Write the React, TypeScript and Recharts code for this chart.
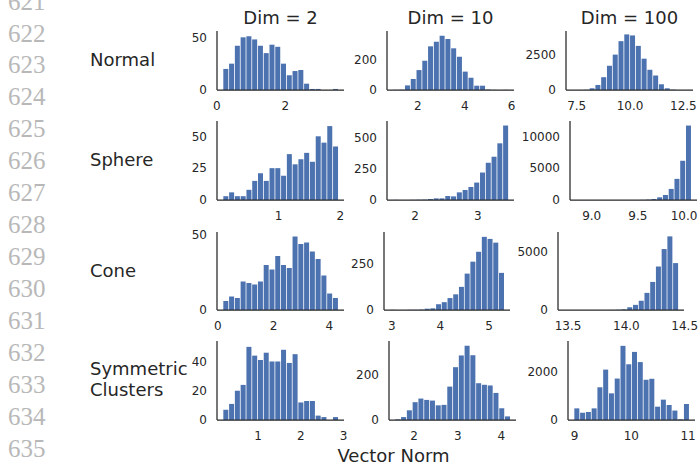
import React from 'react';
import { BarChart, Bar, XAxis, YAxis } from 'recharts';

// ---------- text ----------
const columnTitles = ['Dim = 2', 'Dim = 10', 'Dim = 100'];
const rowLabels = [['Normal'], ['Sphere'], ['Cone'], ['Symmetric', 'Clusters']];
const xAxisTitle = 'Vector Norm';
const lineNumbers = [621, 622, 623, 624, 625, 626, 627, 628, 629, 630, 631, 632, 633, 634, 635];

// ---------- histogram counts (20 bins each) ----------
const normalDim2 = [20, 25, 42, 50, 51, 48, 42, 35, 43, 41, 25, 14, 18, 19, 6, 1, 1, 0, 0, 1];
const normalDim10 = [1, 2, 30, 72, 130, 191, 285, 315, 354, 333, 272, 217, 120, 80, 28, 28, 3, 1, 0, 1];
const normalDim100 = [1, 3, 15, 120, 357, 905, 1714, 2500, 3452, 3929, 3857, 3119, 2214, 1429, 1024, 405, 119, 25, 4, 1];
const sphereDim2 = [3, 6, 3, 3, 8, 15, 21, 15, 25, 25, 19, 36, 28, 32, 37, 30, 50, 45, 58, 42];
const sphereDim10 = [1, 0, 0, 1, 2, 3, 8, 13, 13, 32, 29, 61, 80, 104, 139, 219, 297, 345, 452, 594];
const sphereDim100 = [1, 0, 0, 0, 0, 1, 0, 1, 1, 3, 8, 20, 60, 158, 421, 789, 1737, 3316, 6158, 11684];
const coneDim2 = [6, 9, 8, 19, 18, 17, 19, 30, 27, 36, 30, 28, 49, 44, 45, 39, 34, 23, 11, 8];
const coneDim10 = [1, 0, 0, 1, 1, 2, 7, 9, 31, 42, 64, 84, 124, 195, 259, 312, 392, 381, 361, 199];
const coneDim100 = [1, 0, 0, 0, 0, 0, 0, 2, 6, 20, 59, 235, 441, 794, 1471, 2412, 3735, 5235, 6324, 4029];
const clustersDim2 = [7, 11, 20, 24, 50, 44, 41, 46, 40, 40, 48, 39, 45, 12, 13, 13, 3, 2, 0, 2];
const clustersDim10 = [3, 13, 43, 79, 95, 89, 86, 65, 67, 148, 234, 286, 329, 287, 163, 156, 153, 120, 52, 16];
const clustersDim100 = [480, 300, 330, 480, 1350, 2080, 1100, 1710, 3060, 2300, 2810, 2390, 1660, 1700, 550, 840, 620, 390, 30, 660];

const panelCounts = [
  normalDim2, normalDim10, normalDim100,
  sphereDim2, sphereDim10, sphereDim100,
  coneDim2, coneDim10, coneDim100,
  clustersDim2, clustersDim10, clustersDim100,
];

// bin range [first edge, last edge] per panel
const binRanges = [
  [0.174, 3.54], [0.94, 5.86], [7.27, 12.68],
  [0.094, 1.967], [1.64, 3.49], [8.83, 10.077],
  [0.177, 4.32], [2.958, 5.31], [13.463, 14.445],
  [0.177, 2.875], [1.56, 4.202], [8.984, 11.02],
];

const xDomains = [
  [0.006, 3.71], [0.69, 6.1], [7.0, 12.95],
  [0, 2.06], [1.55, 3.58], [8.765, 10.14],
  [-0.03, 4.53], [2.84, 5.43], [13.414, 14.494],
  [0.042, 3.01], [1.428, 4.334], [8.882, 11.123],
];

const yMaxes = [56, 385, 4170, 62, 630, 12400, 52, 418, 6700, 54, 350, 3260];

const xTicks = [
  [0, 2], [2, 4, 6], [7.5, 10, 12.5],
  [1, 2], [2, 3], [9, 9.5, 10],
  [0, 2, 4], [3, 4, 5], [13.5, 14, 14.5],
  [1, 2, 3], [2, 3, 4], [9, 10, 11],
];
const xTickLabels = [
  ['0', '2'], ['2', '4', '6'], ['7.5', '10.0', '12.5'],
  ['1', '2'], ['2', '3'], ['9.0', '9.5', '10.0'],
  ['0', '2', '4'], ['3', '4', '5'], ['13.5', '14.0', '14.5'],
  ['1', '2', '3'], ['2', '3', '4'], ['9', '10', '11'],
];
const yTicks = [
  [0, 50], [0, 200], [0, 2500],
  [0, 25, 50], [0, 250, 500], [0, 5000, 10000],
  [0, 50], [0, 250], [0, 5000],
  [0, 20, 40], [0, 200], [0, 2000],
];

// ---------- layout (axes boxes: left, top, width, height) ----------
const axesBoxes = [
  [217, 31, 127, 59], [387, 31, 127, 59], [566, 31, 127, 59],
  [217, 121, 127, 79], [387, 121, 127, 79], [570, 121, 127, 79],
  [217, 232, 127, 78], [384, 232, 126, 78], [558, 232, 126, 78],
  [217, 341, 127, 79], [389, 341, 127, 79], [568, 341, 127, 79],
];
const titleCenters = [280.5, 450.5, 629.5];
const titleBaseline = 24;
const rowLabelBaselines = [[66], [166], [277], [375, 396]];

const TEXT = '#262626';
const BAR = '#4c72b0';
const FONT = "'DejaVu Sans', sans-serif";
const YW = 60;
const MT = 6;
const MR = 24;
const XH = 28;

function Panel({ idx }: { idx: number }) {
  const [left, top, w, h] = axesBoxes[idx];
  const [lo, hi] = binRanges[idx];
  const counts = panelCounts[idx];
  const bw = (hi - lo) / counts.length;
  const data = counts.map((c, i) => ({ x: lo + (i + 0.5) * bw, count: c }));
  const ticks = xTicks[idx];
  const labels = xTickLabels[idx];
  const fmt = (v: number) => {
    const k = ticks.findIndex((t) => Math.abs(t - v) < 1e-9);
    return k >= 0 ? labels[k] : String(v);
  };
  const tickStyle = { fill: TEXT, fontSize: 12, fontFamily: FONT };
  const axisLine = { stroke: TEXT, strokeWidth: 1.25 };
  return (
    <div style={{ position: 'absolute', left: left - YW, top: top - MT }}>
      <BarChart
        width={YW + w + MR}
        height={MT + h + XH}
        data={data}
        margin={{ top: MT, right: MR, bottom: 0, left: 0 }}
        barCategoryGap={0.55}
        barGap={0}
      >
        <XAxis
          type="number"
          dataKey="x"
          domain={xDomains[idx]}
          ticks={ticks}
          tickFormatter={fmt}
          allowDataOverflow
          interval={0}
          height={XH}
          axisLine={axisLine}
          tickLine={false}
          tickSize={0}
          tickMargin={11}
          tick={tickStyle}
        />
        <YAxis
          type="number"
          domain={[0, yMaxes[idx]]}
          ticks={yTicks[idx]}
          allowDataOverflow
          interval={0}
          width={YW}
          axisLine={axisLine}
          tickLine={false}
          tickSize={0}
          tickMargin={10}
          tick={tickStyle}
        />
        <Bar dataKey="count" fill={BAR} isAnimationActive={false} />
      </BarChart>
    </div>
  );
}

export default function App() {
  return (
    <div
      style={{
        position: 'absolute',
        left: 0,
        top: 0,
        width: 699,
        height: 469,
        overflow: 'hidden',
        background: '#ffffff',
      }}
    >
      {panelCounts.map((_, i) => (
        <Panel key={i} idx={i} />
      ))}
      <svg
        width={699}
        height={469}
        style={{ position: 'absolute', left: 0, top: 0, pointerEvents: 'none' }}
      >
        {lineNumbers.map((n, i) => (
          <text
            key={n}
            x={8}
            y={9.6 + i * 31.93}
            fill="#b8b8b8"
            fontSize={25}
            fontFamily="'Liberation Serif', serif"
          >
            {n}
          </text>
        ))}
        {columnTitles.map((t, i) => (
          <text
            key={t}
            x={titleCenters[i]}
            y={titleBaseline}
            textAnchor="middle"
            fill={TEXT}
            fontSize={18}
            fontFamily={FONT}
          >
            {t}
          </text>
        ))}
        {rowLabels.map((lines, r) =>
          lines.map((l, j) => (
            <text
              key={`${r}-${j}`}
              x={90}
              y={rowLabelBaselines[r][j]}
              fill={TEXT}
              fontSize={18}
              fontFamily={FONT}
            >
              {l}
            </text>
          ))
        )}
        <text
          x={393.5}
          y={462}
          textAnchor="middle"
          fill={TEXT}
          fontSize={18}
          fontFamily={FONT}
        >
          {xAxisTitle}
        </text>
      </svg>
    </div>
  );
}
